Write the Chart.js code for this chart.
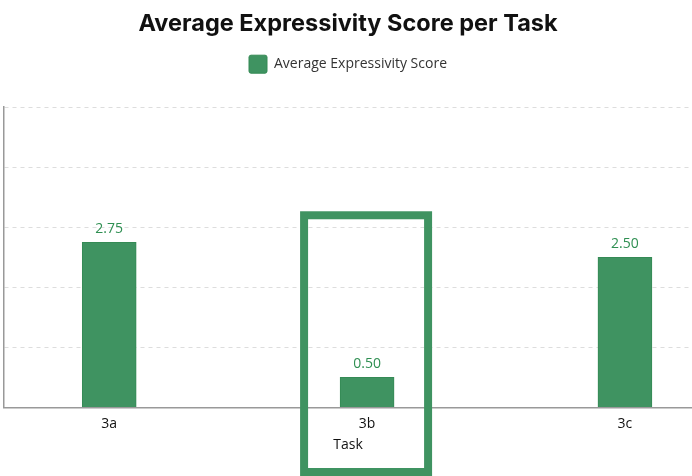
<!DOCTYPE html>
<html>
<head>
<meta charset="utf-8">
<script src="https://cdn.jsdelivr.net/npm/chart.js@4.4.1/dist/chart.umd.min.js"></script>
<style>
  html, body { margin: 0; padding: 0; background: #fff; }
  #wrap { width: 692px; height: 476px; position: relative; }
</style>
</head>
<body>
<div id="wrap"><canvas id="mycanvas"></canvas></div>
<script>
var tasks = ["3a", "3b", "3c"];
var scores = [2.75, 0.50, 2.50];
var highlightTask = "3b";

var green = "#3f9361";

// extra room under the legend
var legendGap = {
	id: "legendGap",
	beforeInit: function(chart) {
		var fit = chart.legend.fit;
		chart.legend.fit = function() {
			fit.bind(chart.legend)();
			this.height += 24;
		};
	}
};

// value labels above each bar
var valueLabels = {
	id: "valueLabels",
	afterDatasetsDraw: function(chart) {
		var ctx = chart.ctx;
		var meta = chart.getDatasetMeta(0);
		ctx.save();
		ctx.fillStyle = "#2f8f52";
		ctx.font = "14px 'Open Sans'";
		ctx.textAlign = "center";
		ctx.textBaseline = "bottom";
		meta.data.forEach(function(bar, i) {
			ctx.fillText(scores[i].toFixed(2), bar.x, bar.y - 6);
		});
		ctx.restore();
	}
};

// box drawn round the highlighted task
var highlightBox = {
	id: "highlightBox",
	afterDraw: function(chart) {
		var ctx = chart.ctx;
		var xs = chart.scales.x;
		var ys = chart.scales.y;
		var cx = xs.getPixelForValue(tasks.indexOf(highlightTask)) - 1;
		var top = ys.getPixelForValue(3.2);
		ctx.save();
		ctx.strokeStyle = green;
		ctx.lineWidth = 8;
		ctx.strokeRect(cx - 62, top, 124, chart.height - 4 - top);
		ctx.restore();
	}
};

var chartdata = {
	datasets: [
		{
			label: "Average Expressivity Score",
			backgroundColor: green,
			borderColor: "#358a55",
			borderWidth: 1,
			barThickness: 54,
			data: scores.map(function(v, i) { return { x: i, y: v }; })
		}
	]
};

var ctx = document.getElementById("mycanvas");

var BarGraph = new Chart(ctx, {
	type: "bar",
	data: chartdata,
	plugins: [legendGap, valueLabels, highlightBox],
	options: {
		responsive: true,
		maintainAspectRatio: false,
		animation: false,
		layout: { padding: { left: 4, right: 0, top: 10, bottom: 23 } },
		plugins: {
			title: {
				display: true,
				text: "Average Expressivity Score per Task",
				color: "#111",
				font: { family: "Inter", size: 23.5, weight: "bold" },
				padding: { top: 0, bottom: 7 }
			},
			legend: {
				labels: {
					color: "#333",
					font: { family: "Open Sans", size: 14 },
					boxWidth: 18,
					boxHeight: 18,
					useBorderRadius: true,
					borderRadius: 2
				}
			},
			tooltip: { enabled: false }
		},
		scales: {
			x: {
				type: "linear",
				offset: false,
				min: -0.408,
				max: 2.26,
				grid: { display: false },
				border: { display: true, color: "#999", width: 1.5 },
				ticks: {
					stepSize: 1,
					padding: 0,
					color: "#111",
					font: { family: "Open Sans", size: 14 },
					callback: function(v) {
						return Number.isInteger(v) && tasks[v] ? tasks[v] : "";
					}
				},
				title: {
					display: true,
					text: "Task",
					color: "#111",
					font: { family: "Open Sans", size: 14 },
					padding: { top: 4, bottom: 0 }
				}
			},
			y: {
				min: 0,
				max: 5,
				ticks: { display: false, stepSize: 1 },
				grid: { color: "#ddd", drawTicks: false },
				border: { display: true, color: "#999", width: 1.5, dash: [4, 4] }
			}
		}
	}
});
</script>
</body>
</html>
